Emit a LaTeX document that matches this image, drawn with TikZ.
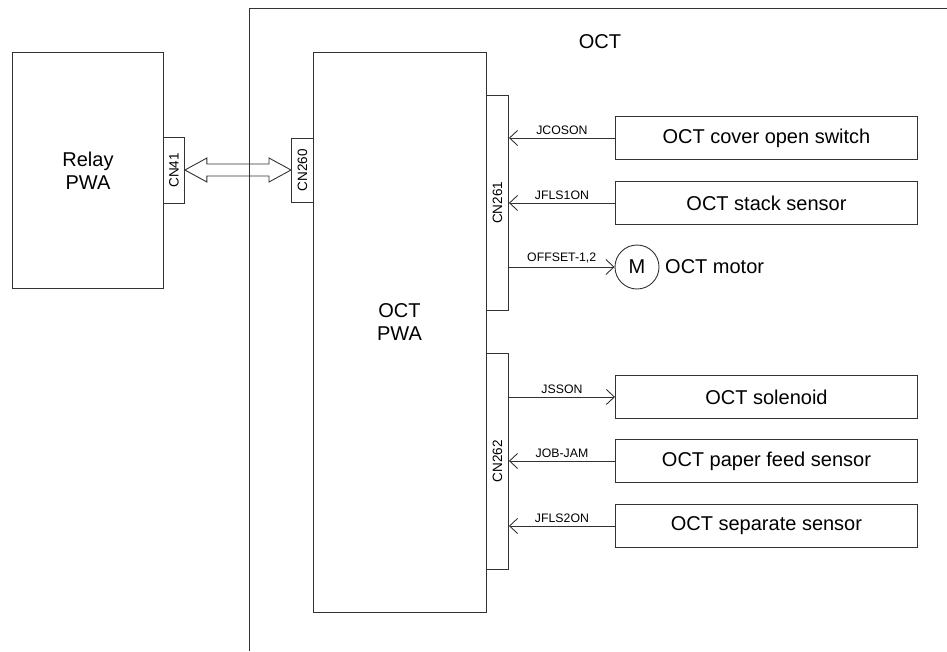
\documentclass[tikz,border=0pt]{standalone}
\usepackage{fontspec}
\setmainfont{Liberation Sans}
\usetikzlibrary{arrows.meta,calc}
\begin{document}
\begin{tikzpicture}[x=1pt,y=-1pt,
  ln/.style={draw=black!80,line width=0.9pt},
  blk/.style={ln,anchor=north west,inner sep=0pt},
  cn/.style={ln,anchor=north west,inner sep=0pt},
  cnlab/.style={font=\fontsize{13.5}{13.5}\selectfont,rotate=90},
  dev/.style={ln,anchor=north west,inner sep=0pt,minimum width=302pt,minimum height=43pt,font=\fontsize{20}{20}\selectfont},
  sig/.style={font=\fontsize{12.3}{12.3}\selectfont,above,inner sep=3pt},
  arr/.style={ln,-{Straight Barb[length=8pt,width=15pt]}}]
\useasboundingbox (0,0) rectangle (947,651);
% OCT frame
\coordinate (fbl) at (249,651);
\coordinate (ftl) at (249,8);
\coordinate (ftr) at (947,8);
\node[font=\fontsize{20}{20}\selectfont] (octlab) at (600,42) {OCT};
% Relay PWA
\node[blk,minimum width=151pt,minimum height=236pt,align=center,font=\fontsize{20}{23}\selectfont] (relay) at (12,52) {Relay\\PWA};
\node[cn,minimum width=21pt,minimum height=66pt] (cn41) at (163,137) {};
\node[cnlab] at (cn41.center) {CN41};
% OCT PWA
\node[blk,minimum width=173pt,minimum height=560pt] (pwa) at (313,52) {};
\node[align=center,font=\fontsize{20}{23}\selectfont] (pwalab) at (399.5,322) {OCT\\PWA};
\node[cn,minimum width=22pt,minimum height=64pt] (cn260) at (291,138) {};
\node[cnlab] at (cn260.center) {CN260};
\node[cn,minimum width=22pt,minimum height=215pt] (cn261) at (486,95) {};
\node[cnlab] at (cn261.center) {CN261};
\node[cn,minimum width=22pt,minimum height=216pt] (cn262) at (486,353) {};
\node[cnlab] at (cn262.center) {CN262};
% devices
\node[dev] (cover) at (615,116) {OCT cover open switch};
\node[dev] (stack) at (615,181) {OCT stack sensor};
\node[ln,circle,minimum size=44pt,inner sep=0pt,font=\fontsize{20}{20}\selectfont] (motor) at (637,267) {M};
\node[anchor=west,inner sep=0pt,font=\fontsize{20}{20}\selectfont] (motorlab) at (665,267) {OCT motor};
\node[dev] (sol) at (615,375) {OCT solenoid};
\node[dev] (feed) at (615,439) {OCT paper feed sensor};
\node[dev] (sep) at (615,504) {OCT separate sensor};
% signal arrows
\draw[arr] (cover.west) -- (cover.west -| cn261.east) node[sig,midway] {JCOSON};
\draw[arr] (stack.west) -- (stack.west -| cn261.east) node[sig,midway] {JFLS1ON};
\draw[arr] (motor.west -| cn261.east) -- (motor.west) node[sig,midway] {OFFSET-1,2};
\draw[arr] (sol.west -| cn262.east) -- (sol.west) node[sig,midway] {JSSON};
\draw[arr] (feed.west) -- (feed.west -| cn262.east) node[sig,midway] {JOB-JAM};
\draw[arr] (sep.west) -- (sep.west -| cn262.east) node[sig,midway] {JFLS2ON};
% double arrow
\coordinate (da) at (cn41.east |- 0,170);
\coordinate (db) at (cn260.west |- 0,170);
\draw[ln,line join=miter] (da) -- ($(da)+(22,-12)$) -- ($(da)+(22,-6)$) -- ($(db)+(-22,-6)$) -- ($(db)+(-22,-12)$) -- (db)
  -- ($(db)+(-22,12)$) -- ($(db)+(-22,6)$) -- ($(da)+(22,6)$) -- ($(da)+(22,12)$) -- cycle;
% frame lines
\draw[ln] (fbl) -- (ftl) -- (ftr);
\end{tikzpicture}
\end{document}
